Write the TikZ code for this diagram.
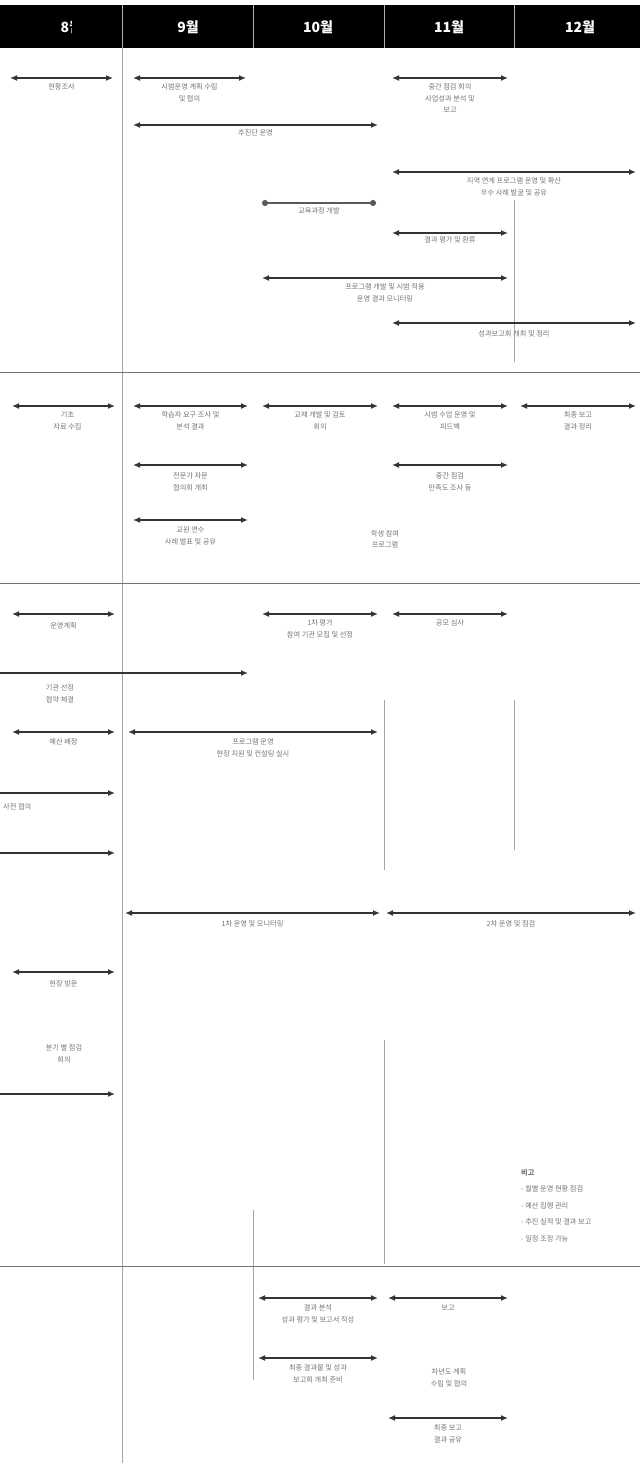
\documentclass[tikz,border=0pt]{standalone}
\usepackage{fontspec}
\setmainfont{Noto Sans CJK KR}
\usetikzlibrary{arrows.meta}
\begin{document}
\begin{tikzpicture}[x=1pt,y=-1pt,
  span/.style={{Latex[length=7pt,width=6pt]}-{Latex[length=7pt,width=6pt]},line width=1.4pt,black!80},
  halfspan/.style={-{Latex[length=7pt,width=6pt]},line width=1.4pt,black!80},
  dotspan/.style={{Circle[length=6pt]}-{Circle[length=6pt]},line width=1.4pt,black!65},
  lbl/.style={text=black!55,font=\fontsize{7.2}{11.5}\selectfont,align=center,inner sep=1pt},
  month/.style={text=white,font=\fontsize{14}{14}\selectfont\bfseries},
  grid/.style={black!35,line width=0.7pt},
  sep/.style={black!55,line width=1pt}]
\useasboundingbox (0,0) rectangle (640,1463);
% header
\fill[black] (0,5) rectangle (640,48);
\foreach \x in {122,253,384,514} \draw[white!70!black,line width=0.8pt] (\x,5)--(\x,48);
\begin{scope}
 \clip (0,5) rectangle (71,48);
 \node[month,anchor=west] (m8) at (57,27) {8월};
\end{scope}
\node[month] (m9) at (188,27) {9월};
\node[month] (m10) at (318,27) {10월};
\node[month] (m11) at (449,27) {11월};
\node[month] (m12) at (580,27) {12월};
% grid and section lines
\draw[grid] (122,48)--(122,1463);
\draw[grid] (514,200)--(514,362);
\draw[grid] (384,700)--(384,870); \draw[grid] (514,700)--(514,850);
\draw[grid] (384,1040)--(384,1264); \draw[grid] (253,1210)--(253,1380);
\draw[sep] (0,372)--(640,372);
\draw[sep] (0,583)--(640,583);
\draw[sep] (0,1266)--(640,1266);

% section 1
\coordinate (a1l) at (10,78); \coordinate (a1r) at (113,78);
\draw[span] (a1l)--(a1r) node[lbl,midway,below=4pt] (a1t) {현황조사};
\coordinate (a2l) at (133,78); \coordinate (a2r) at (246,78);
\draw[span] (a2l)--(a2r) node[lbl,midway,below=4pt] (a2t) {시범운영 계획 수립\\및 협의};
\coordinate (a3l) at (392,78); \coordinate (a3r) at (508,78);
\draw[span] (a3l)--(a3r) node[lbl,midway,below=4pt] (a3t) {중간 점검 회의\\사업성과 분석 및\\보고};
\coordinate (a4l) at (133,125); \coordinate (a4r) at (378,125);
\draw[span] (a4l)--(a4r) node[lbl,midway,below=3pt] (a4t) {추진단 운영};
\coordinate (a5l) at (392,172); \coordinate (a5r) at (636,172);
\draw[span] (a5l)--(a5r) node[lbl,midway,below=4pt] (a5t) {지역 연계 프로그램 운영 및 확산\\우수 사례 발굴 및 공유};
\coordinate (a6l) at (262,203); \coordinate (a6r) at (376,203);
\draw[dotspan] (a6l)--(a6r) node[lbl,midway,below=3pt] (a6t) {교육과정 개발};
\coordinate (a7l) at (392,233); \coordinate (a7r) at (508,233);
\draw[span] (a7l)--(a7r) node[lbl,midway,below=2pt] (a7t) {결과 평가 및 환류};
\coordinate (a8l) at (262,278); \coordinate (a8r) at (508,278);
\draw[span] (a8l)--(a8r) node[lbl,midway,below=4pt] (a8t) {프로그램 개발 및 시범 적용\\운영 결과 모니터링};
\coordinate (a9l) at (392,323); \coordinate (a9r) at (636,323);
\draw[span] (a9l)--(a9r) node[lbl,midway,below=6pt] (a9t) {성과보고회 개최 및 정리};

% section 2
\coordinate (b1l) at (12,406); \coordinate (b1r) at (115,406);
\draw[span] (b1l)--(b1r) node[lbl,midway,below=4pt,xshift=4pt] (b1t) {기초\\자료 수집};
\coordinate (b2l) at (133,406); \coordinate (b2r) at (248,406);
\draw[span] (b2l)--(b2r) node[lbl,midway,below=4pt] (b2t) {학습자 요구 조사 및\\분석 결과};
\coordinate (b3l) at (262,406); \coordinate (b3r) at (378,406);
\draw[span] (b3l)--(b3r) node[lbl,midway,below=4pt] (b3t) {교재 개발 및 검토\\회의};
\coordinate (b4l) at (392,406); \coordinate (b4r) at (508,406);
\draw[span] (b4l)--(b4r) node[lbl,midway,below=4pt] (b4t) {시범 수업 운영 및\\피드백};
\coordinate (b5l) at (520,406); \coordinate (b5r) at (636,406);
\draw[span] (b5l)--(b5r) node[lbl,midway,below=4pt] (b5t) {최종 보고\\결과 정리};
\coordinate (b6l) at (133,465); \coordinate (b6r) at (248,465);
\draw[span] (b6l)--(b6r) node[lbl,midway,below=6pt] (b6t) {전문가 자문\\협의회 개최};
\coordinate (b7l) at (392,465); \coordinate (b7r) at (508,465);
\draw[span] (b7l)--(b7r) node[lbl,midway,below=6pt] (b7t) {중간 점검\\만족도 조사 등};
\coordinate (b8l) at (133,520); \coordinate (b8r) at (248,520);
\draw[span] (b8l)--(b8r) node[lbl,midway,below=5pt] (b8t) {교원 연수\\사례 발표 및 공유};
\node[lbl] (b9t) at (385,539) {학생 참여\\프로그램};

% section 3
\coordinate (c1l) at (12,614); \coordinate (c1r) at (115,614);
\draw[span] (c1l)--(c1r) node[lbl,midway,below=7pt] (c1t) {운영계획};
\coordinate (c2l) at (262,614); \coordinate (c2r) at (378,614);
\draw[span] (c2l)--(c2r) node[lbl,midway,below=4pt] (c2t) {1차 평가\\참여 기관 모집 및 선정};
\coordinate (c3l) at (392,614); \coordinate (c3r) at (508,614);
\draw[span] (c3l)--(c3r) node[lbl,midway,below=4pt] (c3t) {공모 심사};
\coordinate (c4l) at (0,673); \coordinate (c4r) at (248,673);
\draw[halfspan] (c4l)--(c4r);
\node[lbl] (c4t) at (60,694) {기관 선정\\협약 체결};
\coordinate (c5l) at (12,732); \coordinate (c5r) at (115,732);
\draw[span] (c5l)--(c5r) node[lbl,midway,below=5pt] (c5t) {예산 배정};
\coordinate (c6l) at (128,732); \coordinate (c6r) at (378,732);
\draw[span] (c6l)--(c6r) node[lbl,midway,below=5pt] (c6t) {프로그램 운영\\현장 지원 및 컨설팅 실시};
\coordinate (c7l) at (0,793); \coordinate (c7r) at (115,793);
\draw[halfspan] (c7l)--(c7r);
\node[lbl,anchor=west] (c7t) at (2,807) {사전 협의};
\coordinate (c8l) at (0,853); \coordinate (c8r) at (115,853);
\draw[halfspan] (c8l)--(c8r);
\coordinate (c9l) at (125,913); \coordinate (c9r) at (380,913);
\draw[span] (c9l)--(c9r) node[lbl,midway,below=6pt] (c9t) {1차 운영 및 모니터링};
\coordinate (c10l) at (386,913); \coordinate (c10r) at (636,913);
\draw[span] (c10l)--(c10r) node[lbl,midway,below=6pt] (c10t) {2차 운영 및 점검};
\coordinate (c11l) at (12,972); \coordinate (c11r) at (115,972);
\draw[span] (c11l)--(c11r) node[lbl,midway,below=7pt] (c11t) {현장 방문};
\node[lbl] (c12t) at (64,1054) {분기 별 점검\\회의};
\coordinate (c13l) at (0,1094); \coordinate (c13r) at (115,1094);
\draw[halfspan] (c13l)--(c13r);
\node[lbl,anchor=north west,align=left,font=\fontsize{7.2}{16.5}\selectfont] (note) at (520,1168)
 {\textbf{비고}\\- 월별 운영 현황 점검\\- 예산 집행 관리\\- 추진 실적 및 결과 보고\\- 일정 조정 가능};

% section 4
\coordinate (d1l) at (258,1298); \coordinate (d1r) at (378,1298);
\draw[span] (d1l)--(d1r) node[lbl,midway,below=5pt] (d1t) {결과 분석\\성과 평가 및 보고서 작성};
\coordinate (d2l) at (388,1298); \coordinate (d2r) at (508,1298);
\draw[span] (d2l)--(d2r) node[lbl,midway,below=5pt] (d2t) {보고};
\coordinate (d3l) at (258,1358); \coordinate (d3r) at (378,1358);
\draw[span] (d3l)--(d3r) node[lbl,midway,below=5pt] (d3t) {최종 결과물 및 성과\\보고회 개최 준비};
\node[lbl] (d4t) at (449,1378) {차년도 계획\\수립 및 협의};
\coordinate (d5l) at (388,1418); \coordinate (d5r) at (508,1418);
\draw[span] (d5l)--(d5r) node[lbl,midway,below=5pt] (d5t) {최종 보고\\결과 공유};
\end{tikzpicture}
\end{document}
